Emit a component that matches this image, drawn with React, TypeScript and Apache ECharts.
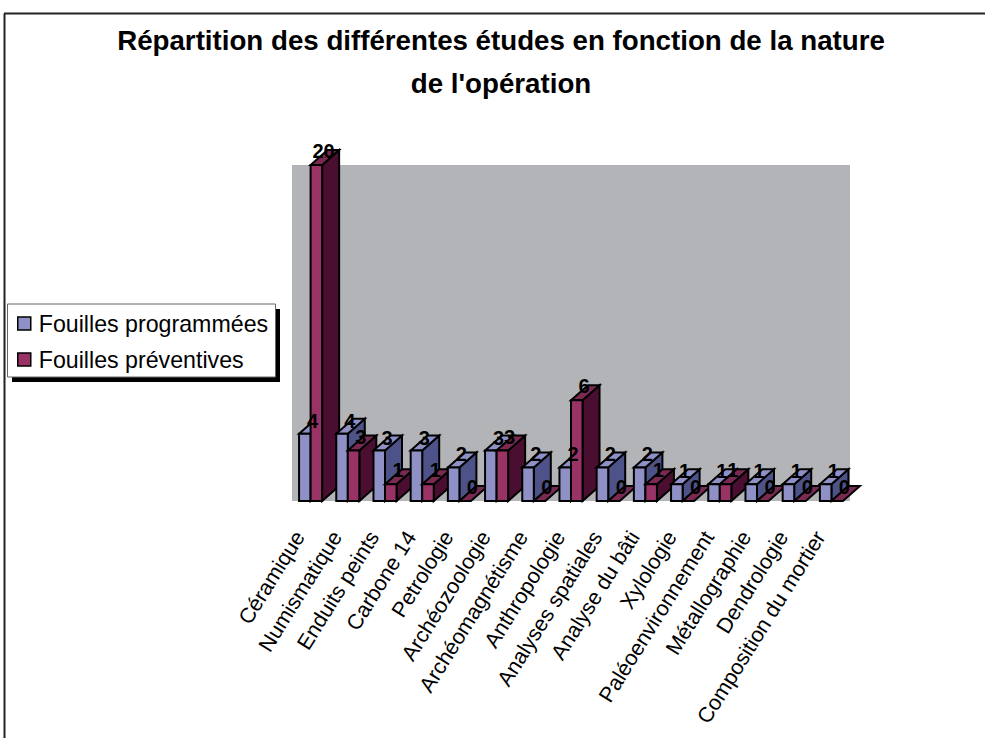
import React, { useEffect, useRef } from "react";
import * as echarts from "echarts";

const categories = [
  "Céramique", "Numismatique", "Enduits peints", "Carbone 14", "Petrologie",
  "Archéozoologie", "Archéomagnétisme", "Anthropologie", "Analyses spatiales",
  "Analyse du bâti", "Xylologie", "Paléoenvironnement", "Métallographie",
  "Dendrologie", "Composition du mortier",
];
const programmees = [4, 4, 3, 3, 2, 3, 2, 2, 2, 2, 1, 1, 1, 1, 1];
const preventives = [20, 3, 1, 1, 0, 3, 0, 6, 0, 1, 0, 1, 0, 0, 0];
const seriesNames = ["Fouilles programmées", "Fouilles préventives"];
const titleText = "Répartition des différentes études en fonction de la nature\nde l'opération";

const FONT = "'Liberation Sans', Arial, sans-serif";
const BLUE = { front: "#8f91c6", top: "#8f91c6", side: "#4d5388" };
const PINK = { front: "#993366", top: "#7a2951", side: "#4a0f30" };
const DX = 17;
const DY = 15;
const STROKE = { stroke: "#000", lineWidth: 2 };

function bar3d(left: number, right: number, top: number, bottom: number, c: any) {
  const out: any[] = [];
  if (bottom - top > 0.5) {
    out.push({
      type: "polygon",
      shape: { points: [[right, top], [right + DX, top - DY], [right + DX, bottom - DY], [right, bottom]] },
      style: { fill: c.side, ...STROKE },
    });
  }
  out.push({
    type: "polygon",
    shape: { points: [[left, top], [left + DX, top - DY], [right + DX, top - DY], [right, top]] },
    style: { fill: c.top, ...STROKE },
  });
  if (bottom - top > 0.5) {
    out.push({
      type: "rect",
      shape: { x: left, y: top, width: right - left, height: bottom - top },
      style: { fill: c.front, ...STROKE },
    });
  }
  return out;
}

function renderItem(_p: any, api: any) {
  const i = api.value(0);
  const a = api.value(1);
  const b = api.value(2);
  const band = api.size([1, 0])[0];
  const w = band * 0.31;
  const base = api.coord([i, 0]);
  const pa = api.coord([i, a]);
  const pb = api.coord([i, b]);
  return {
    type: "group",
    children: [
      ...bar3d(base[0] - w, base[0], pa[1], base[1], BLUE),
      ...bar3d(base[0], base[0] + w, pb[1], base[1], PINK),
    ],
  };
}

export default function App() {
  const ref = useRef<HTMLDivElement>(null);
  useEffect(() => {
    const chart = echarts.init(ref.current!, null, { renderer: "svg" });
    const labelSeries = (name: string, values: number[], offsetX: number, offsetY: number, color: string) => ({
      type: "scatter",
      name,
      data: values,
      symbolSize: 1,
      itemStyle: { color, opacity: 0 },
      z: 10,
      silent: true,
      clip: false,
      label: {
        show: true,
        position: "inside",
        offset: [offsetX, offsetY],
        color: "#000",
        fontFamily: FONT,
        fontWeight: "bold",
        fontSize: 20,
        opacity: 1,
        formatter: (p: any) => String(p.value),
      },
    });
    chart.setOption({
      animation: false,
      backgroundColor: "#fff",
      title: {
        text: titleText,
        left: 496,
        top: 14,
        textAlign: "center",
        textStyle: { fontFamily: FONT, fontWeight: "bold", fontSize: 27.7, lineHeight: 43, color: "#000" },
      },
      legend: {
        left: 7,
        top: 312,
        orient: "vertical",
        padding: [0, 0, 0, 10],
        itemWidth: 13,
        itemHeight: 13,
        itemGap: 13,
        selectedMode: false,
        textStyle: { fontFamily: FONT, fontSize: 23.2, color: "#000", padding: [0, 0, 0, 3] },
        data: [
          { name: seriesNames[0], icon: "rect", itemStyle: { color: BLUE.front, opacity: 1, borderColor: "#000", borderWidth: 1.5 } },
          { name: seriesNames[1], icon: "rect", itemStyle: { color: PINK.front, opacity: 1, borderColor: "#000", borderWidth: 1.5 } },
        ],
      },
      grid: { left: 292, top: 165, width: 558, height: 336, show: true, backgroundColor: "#b3b4b8", borderWidth: 0 },
      xAxis: {
        type: "category",
        data: categories,
        axisLine: { show: false },
        axisTick: { show: false },
        axisLabel: {
          interval: 0,
          rotate: 58,
          margin: 26,
          padding: [0, 11, 0, 0],
          verticalAlign: "bottom",
          lineHeight: 12,
          color: "#000",
          fontFamily: FONT,
          fontSize: 21.5,
        },
      },
      yAxis: { type: "value", min: 0, max: 20, show: false, splitLine: { show: false } },
      graphic: [
        { type: "line", shape: { x1: 4.5, y1: 13.5, x2: 4.5, y2: 738 }, style: { stroke: "#222", lineWidth: 2 } },
        { type: "line", shape: { x1: 4, y1: 13.5, x2: 985, y2: 13.5 }, style: { stroke: "#222", lineWidth: 2 } },
        { type: "rect", shape: { x: 12, y: 309, width: 268, height: 73 }, style: { fill: "#000" } },
        { type: "rect", shape: { x: 7.5, y: 304, width: 268, height: 73 }, style: { fill: "#fff", stroke: "#666", lineWidth: 1 } },
      ],
      series: [
        {
          type: "custom",
          name: "bars3d",
          renderItem,
          clip: false,
          silent: true,
          z: 5,
          encode: { x: 0, y: [1, 2] },
          data: categories.map((_, i) => [i, programmees[i], preventives[i]]),
        },
        labelSeries(seriesNames[0], programmees, 2, -13, BLUE.front),
        labelSeries(seriesNames[1], preventives, 13, -14, PINK.front),
      ],
    });
    return () => chart.dispose();
  }, []);
  return <div ref={ref} style={{ position: "absolute", left: 0, top: 0, width: 985, height: 738 }} />;
}
